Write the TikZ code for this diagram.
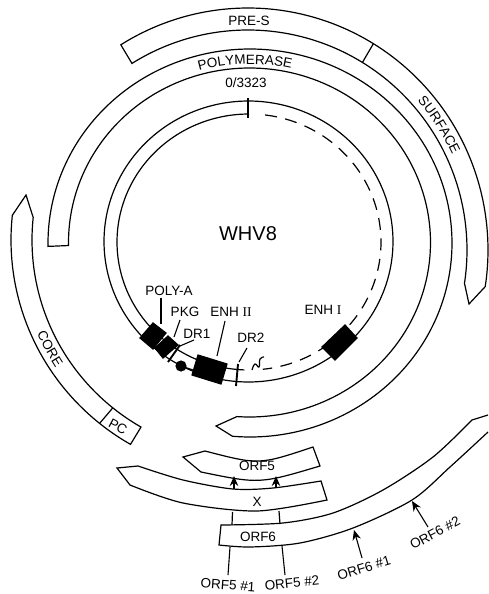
\documentclass[tikz,border=0pt]{standalone}
\usepackage{fontspec}
\setmainfont{Liberation Sans}
\newfontfamily\serifI{Liberation Serif}
\usetikzlibrary{decorations.text,arrows.meta}
\newcommand{\lblfont}{\fontsize{13.5}{15}\selectfont}
\begin{document}
\begin{tikzpicture}[x=1pt,y=-1pt,line width=1.2pt,line join=miter,
  lbl/.style={font=\lblfont,inner sep=0pt,text=black},
  bar/.style={line width=1.9pt},
  leader/.style={line width=1.1pt},
  upmark/.style={line width=1.1pt,-{Stealth[length=10pt,width=8.5pt]}},
  blackbox/.style={fill=black,draw=black,line width=1.2pt},
  curved/.style={decorate,decoration={text along path,text align=center,text={|\lblfont|#1}}}]
\useasboundingbox[fill=white] (0,0) rectangle (488,594);
% genome
\draw plot[domain=0:360,samples=120,smooth] ({248.5+144.5*cos(\x)},{241.5-140.5*sin(\x)}) -- cycle;
\draw plot[domain=90:268,samples=60,smooth] ({249+132*cos(\x)},{242-128*sin(\x)});
\draw[dash pattern=on 12pt off 8.5pt] plot[domain=83:-84,samples=60,smooth] ({249+132*cos(\x)},{242-128*sin(\x)});
\draw plot[smooth,tension=.8] coordinates {(252,370) (255,364) (259,367) (260,359) (264,357)};
\draw[bar] (248,98) -- (248,118);
% pre-s / surface
\draw plot[domain=122:-8.7,samples=70,smooth] ({248+240*cos(\x)},{250-242*sin(\x)})
  -- (469,304) -- plot[domain=-8.7:122,samples=70,smooth] ({248+219*cos(\x)},{250-220*sin(\x)}) -- cycle;
\coordinate (divA) at ({248+240*cos(58.5)},{250-242*sin(58.5)});
\coordinate (divB) at ({248+219*cos(58.5)},{250-220*sin(58.5)});
\draw (divA) -- (divB);
% polymerase
\draw plot[domain=181:-95,samples=120,smooth] ({250+202*cos(\x)},{243-194*sin(\x)})
  -- (216,426) -- (236,417) -- plot[domain=-94:181,samples=120,smooth] ({249.5+181*cos(\x)},{242.5-174.5*sin(\x)}) -- cycle;
% core
\draw plot[domain=174:240,samples=40,smooth] ({250+239*cos(\x)},{240-236*sin(\x)})
  -- plot[domain=240:174,samples=40,smooth] ({250+218*cos(\x)},{240-216*sin(\x)})
  -- (26,195) -- cycle;
\coordinate (pcA) at ({250+239*cos(231)},{240-236*sin(231)});
\coordinate (pcB) at ({250+218*cos(231)},{240-216*sin(231)});
\draw (pcA) -- (pcB);
% ORF5
\draw (183,457) -- (205,451) .. controls (259,465) .. (313,447) -- (320,466) .. controls (259.5,484) .. (201,472) -- cycle;
% X
\draw (117,468) -- (138,466) -- plot[smooth] coordinates {(138,466) (183,480) (233,489) (273,488) (321,481)}
  -- (327,500) -- plot[smooth] coordinates {(327,500) (257,511) (183,503) (130,485)} -- cycle;
% ORF6
\coordinate (o6a) at (232.5,512); \coordinate (o6b) at (232,525);
\coordinate (o6c) at (279,511); \coordinate (o6d) at (280,524);
\draw (o6a) -- (o6b); \draw (o6c) -- (o6d);
\draw (488,415) -- (472,420) -- plot[smooth] coordinates {(472,420) (433,457) (383,490) (333,513) (283,523) (221,525)}
  -- (219,545) -- plot[smooth] coordinates {(219,545) (250,547) (300,543) (353,528) (412,500) (450,467) (488,432)};
% black boxes
\fill[blackbox] (153,323) -- (166,333) -- (153,349) -- (140,338) -- cycle;
\fill[blackbox] (168,336) -- (178,345) -- (163,358) -- (155,348) -- cycle;
\fill[blackbox] (198,355) -- (227,364) -- (221,384) -- (192,375) -- cycle;
\fill[blackbox] (345,325) -- (357,338) -- (335,360) -- (322,347) -- cycle;
\draw[bar] (180,345) -- (168,362);
\draw[bar] (238,364) -- (236,386);
\fill (181,366) circle (5.6pt);
\draw (181,366) -- (193,370);
% labels
\node[lbl] (pres) at (249,21) {PRE-S};
\node[lbl] (zero) at (246,83) {0/3323};
\node[font=\fontsize{20}{22}\selectfont,inner sep=0pt] (whv) at (248,234) {WHV8};
\node[lbl] (polyA) at (169,291) {POLY-A};
\node[lbl] (pkg) at (185,312) {PKG};
\node[lbl] (drone) at (197,334) {DR1};
\node[lbl] (enhii) at (231,312) {ENH {\serifI II}};
\node[lbl] (drtwo) at (251,338) {DR2};
\node[lbl] (enhi) at (323,310) {ENH {\serifI I}};
\node[lbl,rotate=-28] (pc) at (118,427) {PC};
\node[lbl] (orffive) at (257,466) {ORF5};
\node[lbl] (xn) at (257,502) {X};
\node[lbl] (orfsix) at (258,537) {ORF6};
\node[lbl,rotate=-4] (o51) at (228,585) {ORF5 \#1};
\node[lbl,rotate=6] (o52) at (292,583) {ORF5 \#2};
\node[lbl,rotate=17] (o61) at (364,568) {ORF6 \#1};
\node[lbl,rotate=28] (o62) at (435,533) {ORF6 \#2};
\path[curved=POLYMERASE] plot[domain=121.5:61.5,samples=21] ({250+190*cos(\x)},{243-179*sin(\x)});
\path[curved=SURFACE] plot[domain=58:8,samples=21] ({248+225*cos(\x)},{250-226.5*sin(\x)});
\path[curved=CORE] plot[domain=188.7:228.7,samples=21] ({250+233*cos(\x)},{240-231*sin(\x)});
% leaders
\coordinate (lpa) at (161,324); \draw[leader] (161,298) -- (lpa);
\coordinate (lpk) at (174,337); \draw[leader] (180,320) -- (lpk);
\coordinate (ldr) at (180,346); \draw[leader] (194,340) -- (ldr);
\coordinate (len) at (217,356); \draw[leader] (225,321) -- (len);
\coordinate (ldt) at (239,362); \draw[leader] (247,348) -- (ldt);
\coordinate (a1) at (234,489); \coordinate (a1t) at (234,476); \draw[upmark] (a1) -- (a1t);
\coordinate (a2) at (276,488); \coordinate (a2t) at (276,476); \draw[upmark] (a2) -- (a2t);
\coordinate (a3) at (362,558); \coordinate (a3t) at (354,530); \draw[upmark] (a3) -- (a3t);
\coordinate (a4) at (428,527); \coordinate (a4t) at (412,501); \draw[upmark] (a4) -- (a4t);
\coordinate (b1) at (230,547); \draw[leader] (b1) -- (228,575);
\coordinate (b2) at (282,546); \draw[leader] (b2) -- (285,575);
\end{tikzpicture}
\end{document}
